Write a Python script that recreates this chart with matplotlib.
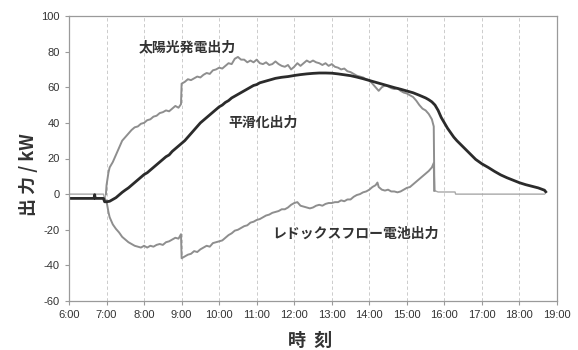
import numpy as np
import matplotlib
matplotlib.use("Agg")
import matplotlib.pyplot as plt

plt.rcParams['font.family'] = ['Noto Sans CJK JP', 'DejaVu Sans']
plt.rcParams['axes.unicode_minus'] = False

# 太陽光発電出力 (kW)
pv_time = ["6:00", "6:55", "6:57", "6:59",
           "7:00", "7:03", "7:05", "7:10", "7:15", "7:20", "7:25", "7:30", "7:35", "7:40", "7:45", "7:50", "7:55",
           "8:00", "8:05", "8:10", "8:15", "8:20", "8:25", "8:30", "8:35", "8:40", "8:45", "8:50", "8:55", "8:59",
           "9:00", "9:05", "9:10", "9:15", "9:20", "9:25", "9:30", "9:35", "9:40", "9:45", "9:50", "9:55",
           "10:00", "10:05", "10:10", "10:15", "10:20", "10:25", "10:30", "10:35", "10:40", "10:45", "10:50", "10:55",
           "11:00", "11:05", "11:10", "11:15", "11:20", "11:25", "11:30", "11:35", "11:40", "11:45", "11:50", "11:55",
           "12:00", "12:05", "12:10", "12:15", "12:20", "12:25", "12:30", "12:35", "12:40", "12:45", "12:50", "12:55",
           "13:00", "13:05", "13:10", "13:15", "13:20", "13:25", "13:30", "13:35", "13:40", "13:45", "13:50", "13:55",
           "14:00", "14:05", "14:10", "14:15", "14:20", "14:25", "14:30", "14:35", "14:40", "14:45", "14:50", "14:55",
           "15:00", "15:05", "15:10", "15:15", "15:20", "15:25", "15:30", "15:35", "15:40", "15:43", "15:44"]
pv_kw = [0, 0, -3, 0,
         5, 12, 15, 18, 22, 26, 30, 32, 34, 36, 37.5, 38, 39.5,
         40, 41.5, 42, 43.5, 44, 45.5, 46, 47, 46.5, 48, 49.5, 48.5, 50.5,
         62, 63, 64.5, 64, 65, 66, 65.5, 67, 68, 67.5, 69.5, 70,
         71, 70.5, 72, 73.5, 73, 76, 77, 75.5, 75.5, 74, 75, 74,
         75.5, 73.5, 73, 74, 72.5, 73, 74.5, 73, 72, 71.5, 72.5, 70,
         71.5, 73.5, 72, 73.5, 75, 74, 75, 74, 73.5, 72.5, 73.5, 72,
         73, 71.5, 71, 70, 70.5, 69, 68.5, 67.5, 66.5, 66, 65.5, 64.5,
         64, 62, 60, 58, 60, 61, 60.5, 59.5, 59, 59.5, 58, 57,
         56.5, 55.5, 54.5, 52.5, 50, 48, 47, 45, 42, 38, 2]

# 平滑化出力 (kW)
smooth_time = ["6:00", "6:40", "6:41", "6:42", "6:55", "6:57",
               "7:00", "7:05", "7:10", "7:15", "7:20", "7:25", "7:30", "7:35", "7:40", "7:45", "7:50", "7:55",
               "8:00", "8:05", "8:10", "8:15", "8:20", "8:25", "8:30", "8:35", "8:40", "8:45", "8:50", "8:55",
               "9:00", "9:05", "9:10", "9:15", "9:20", "9:25", "9:30", "9:35", "9:40", "9:45", "9:50", "9:55",
               "10:00", "10:05", "10:10", "10:15", "10:20", "10:25", "10:30", "10:35", "10:40", "10:45", "10:50", "10:55",
               "11:00", "11:05", "11:10", "11:15", "11:20", "11:25", "11:30", "11:35", "11:40", "11:45", "11:50", "11:55",
               "12:00", "12:10", "12:20", "12:30", "12:40", "12:50",
               "13:00", "13:10", "13:20", "13:30", "13:40", "13:50",
               "14:00", "14:10", "14:20", "14:30", "14:40", "14:50",
               "15:00", "15:10", "15:20", "15:30", "15:35", "15:40", "15:45", "15:50", "15:55",
               "16:00", "16:05", "16:10", "16:15", "16:20", "16:30", "16:40", "16:50",
               "17:00", "17:10", "17:20", "17:30", "17:40", "17:50",
               "18:00", "18:10", "18:20", "18:30", "18:40", "18:42"]
smooth_kw = [-2.4, -2.4, -0.3, -2.4, -2.4, -4.3,
             -4.3, -4, -3, -2, -0.5, 1, 2.3, 3.5, 5, 6.5, 8, 9.5,
             11, 12, 13.5, 15, 16.5, 18, 19.5, 21, 22, 24, 25.5, 27,
             28.5, 30, 32, 34, 36, 38, 40, 41.5, 43, 44.5, 46, 47.5,
             49, 50, 51.5, 52.5, 54, 55, 56, 57, 58, 59, 60, 61,
             61.5, 62.5, 63, 63.5, 64, 64.5, 65, 65.3, 65.6, 65.8, 66, 66.3,
             66.6, 67.1, 67.5, 67.8, 68, 68,
             67.9, 67.5, 67, 66.5, 65.7, 64.8,
             63.8, 62.8, 61.8, 60.8, 59.8, 58.9,
             57.9, 56.9, 55.5, 54, 53, 51.8, 50, 47, 43,
             40, 37, 34.5, 32, 30, 26.5, 23, 19.5,
             17, 15, 12.8, 10.8, 9.2, 7.8,
             6.4, 5.3, 4.4, 3.5, 2.2, 1.3]

# レドックスフロー電池出力 (kW)
rf_time = ["6:57",
           "7:00", "7:03", "7:05", "7:10", "7:15", "7:20", "7:25", "7:30", "7:35", "7:40", "7:45", "7:50", "7:55",
           "8:00", "8:05", "8:10", "8:15", "8:20", "8:25", "8:30", "8:35", "8:40", "8:45", "8:50", "8:55", "8:59",
           "9:00", "9:05", "9:10", "9:15", "9:20", "9:25", "9:30", "9:35", "9:40", "9:45", "9:50", "9:55",
           "10:00", "10:05", "10:10", "10:15", "10:20", "10:25", "10:30", "10:35", "10:40", "10:45", "10:50", "10:55",
           "11:00", "11:05", "11:10", "11:15", "11:20", "11:25", "11:30", "11:35", "11:40", "11:45", "11:50", "11:55",
           "12:00", "12:05", "12:10", "12:15", "12:20", "12:25", "12:30", "12:35", "12:40", "12:45", "12:50", "12:55",
           "13:00", "13:05", "13:10", "13:15", "13:20", "13:25", "13:30", "13:35", "13:40", "13:45", "13:50", "13:55",
           "14:00", "14:05", "14:10", "14:13", "14:15", "14:20", "14:25", "14:30", "14:35", "14:40", "14:45", "14:50", "14:55",
           "15:00", "15:05", "15:10", "15:15", "15:20", "15:25", "15:30", "15:35", "15:40", "15:43", "15:44"]
rf_kw = [-2.4,
         -4, -10, -13, -17, -19.5, -21.5, -24, -25.5, -27, -28, -29, -29.5, -30,
         -29, -30, -29, -29.5, -28.5, -28, -28.5, -27, -26.5, -25.5, -24.5, -25, -22.5,
         -36, -35, -34, -33.5, -32, -32.5, -31, -30, -29, -29.5, -27.5, -27,
         -26.5, -26, -24.5, -23, -22, -20.5, -20, -19, -18, -17.5, -16, -15.5,
         -14.5, -14, -13, -12, -11.5, -10.5, -10, -9.5, -8.5, -8.5, -7.5, -6,
         -5, -4.5, -6.5, -7, -7.5, -8, -7.5, -6.5, -6, -6.5, -5.5, -5,
         -5, -4.5, -4.5, -3.5, -4, -3, -3, -1.5, -0.5, 0, 1, 1.5,
         2.5, 4, 5, 6.5, 4, 2.5, 2, 2.5, 1.5, 1.5, 1, 1.5, 2.5,
         3.5, 4, 5.5, 7, 8.5, 10, 11.5, 13, 15, 17.5, 2]

# after the plant stops: both converters idle near zero
idle_time = ["15:44", "15:50", "16:17", "16:18", "18:40"]
idle_kw = [2, 1.2, 1.2, 0, 0]

hour_labels = ["6:00", "7:00", "8:00", "9:00", "10:00", "11:00", "12:00",
               "13:00", "14:00", "15:00", "16:00", "17:00", "18:00", "19:00"]


def hours(times):
    out = []
    for t in times:
        h, m = t.split(":")
        out.append(int(h) + int(m) / 60.)
    return np.array(out)


fig = plt.figure(figsize=(5.78, 3.5), dpi=100)
ax = fig.add_axes([69 / 578, 49 / 350, 488 / 578, 285 / 350])

for h in hours(hour_labels)[1:-1]:
    ax.axvline(h, color='#c4c4c4', lw=0.6, ls=(0, (4, 3)), zorder=0)

ax.plot(hours(idle_time), idle_kw, color='#a8a8a8', lw=1.0)
ax.plot(hours(pv_time[:4]), pv_kw[:4], color='#a8a8a8', lw=1.0)
ax.plot(hours(pv_time[3:]), pv_kw[3:], color='#8e8e8e', lw=1.4)
ax.plot(hours(rf_time), rf_kw, color='#8e8e8e', lw=1.4)
ax.plot(hours(smooth_time), smooth_kw, color='#2b2b2b', lw=2.0)

ax.set_xlim(6, 19)
ax.set_ylim(-60, 100)
ax.set_xticks(hours(hour_labels))
ax.set_xticklabels(hour_labels)
ax.set_yticks(np.arange(-60, 101, 20))
for s in ax.spines.values():
    s.set_color('#9a9a9a')
    s.set_linewidth(0.9)
ax.tick_params(colors='#9a9a9a', length=3, width=0.8, labelcolor='#333333', labelsize=8)
for lab in ax.get_xticklabels() + ax.get_yticklabels():
    lab.set_family('Liberation Sans')

txt = dict(fontsize=10, fontweight='bold', color='#333333', ha='center', va='center')
ax.text(9.15, 82.5, "太陽光発電出力", **txt)
ax.text(11.18, 40, "平滑化出力", **txt)
ax.text(13.63, -22, "レドックスフロー電池出力", **txt)

fig.text(28 / 578, 1 - 175 / 350, "出 力 / kW", rotation=90, fontsize=13, fontweight='bold',
         color='#333333', ha='center', va='center')
fig.text(310 / 578, 1 - 340 / 350, "時  刻", fontsize=13, fontweight='bold',
         color='#333333', ha='center', va='center')

fig.savefig("out.png", dpi=100, facecolor='white')
